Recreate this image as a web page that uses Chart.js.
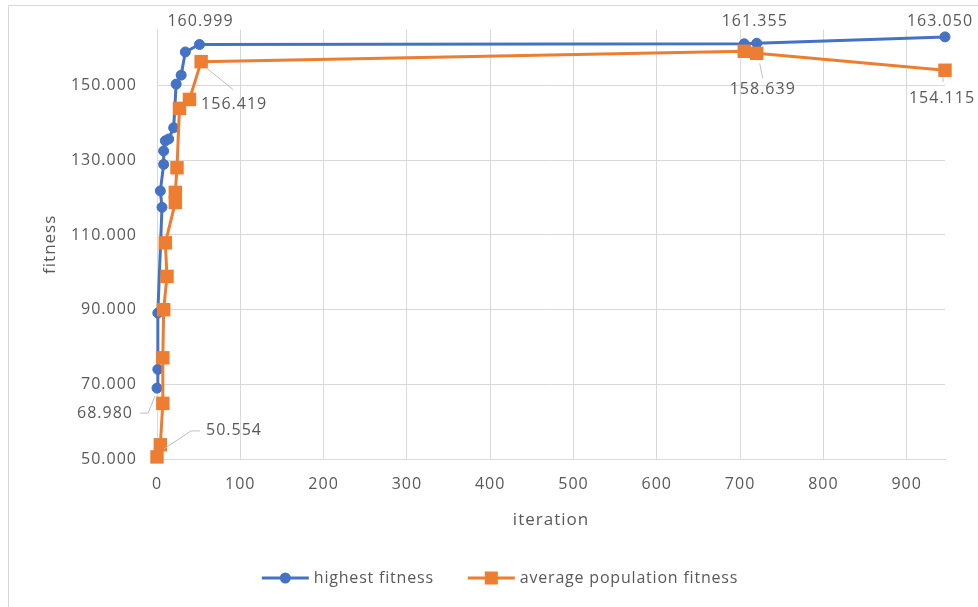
<!DOCTYPE html>
<html>
<head>
<meta charset="utf-8">
<script src="https://cdn.jsdelivr.net/npm/chart.js@4.4.0/dist/chart.umd.min.js"></script>
<style>
  html, body { margin: 0; padding: 0; background: #ffffff; }
  canvas { display: block; }
</style>
</head>
<body>
<canvas id="chart" width="978" height="607"></canvas>
<script>
// Series names
const seriesNames = ['highest fitness', 'average population fitness'];

// highest fitness per iteration
const highestIter = [0, 1, 1, 6, 4, 8, 8, 10, 14, 20, 23, 29, 34, 51, 705, 720, 946];
const highestFit = [68.980, 74.0, 89.1, 117.4, 121.8, 128.9, 132.5, 135.2, 135.7, 138.7, 150.4, 152.8, 159.0, 160.999, 161.2, 161.355, 163.050];

// average population fitness per iteration
const averageIter = [0, 4, 7, 7, 8, 12, 10, 22, 22, 24, 27, 39, 53, 705, 720, 946];
const averageFit = [50.554, 53.8, 64.9, 77.1, 90.0, 98.9, 107.9, 118.7, 121.4, 128.0, 143.9, 146.3, 156.419, 159.2, 158.639, 154.115];

// Axis ticks and ranges
const xTicks = [0, 100, 200, 300, 400, 500, 600, 700, 800, 900];
const yTicks = [50, 70, 90, 110, 130, 150];
const xMin = 0, xMax = 946;
const yMin = 50, yMax = 165;

const FONT = '"Open Sans", "Noto Sans", sans-serif';
const TEXT = '#595959';
const GRID = '#d9d9d9';
const COLORS = ['#4472C4', '#ED7D31'];

const zip = (xs, ys) => xs.map((x, i) => ({ x: x, y: ys[i] }));

// Value labels: which point, where the text sits relative to it, optional leader line
const valueLabels = [
  { ds: 0, i: 0,  dx: -52, dy: 25, leader: [[-17, 25], [-9, 25], [-2, 8]] },
  { ds: 0, i: 13, dx: 1,   dy: -23 },
  { ds: 0, i: 15, dx: -2,  dy: -22 },
  { ds: 0, i: 16, dx: -5,  dy: -15 },
  { ds: 1, i: 0,  dx: 77,  dy: -26, leader: [[43, -26], [34, -26], [7, -8]] },
  { ds: 1, i: 12, dx: 33,  dy: 43,  leader: [[5, 6], [32, 28]] },
  { ds: 1, i: 14, dx: 6,   dy: 36,  leader: [[3, 10], [6, 25]] },
  { ds: 1, i: 15, dx: -3,  dy: 28,  leader: [[-2, 7], [-2, 12]] }
];

const spacing = {
  id: 'spacing',
  beforeLayout(chart) { chart.ctx.letterSpacing = '1px'; },
  beforeDraw(chart) { chart.ctx.letterSpacing = '1px'; }
};

const frame = {
  id: 'frame',
  beforeDraw(chart) {
    const ctx = chart.ctx;
    ctx.save();
    ctx.fillStyle = '#ffffff';
    ctx.fillRect(0, 0, chart.width, chart.height);
    ctx.strokeStyle = GRID;
    ctx.lineWidth = 1;
    ctx.strokeRect(8.5, 5.5, chart.width + 10, chart.height + 10);
    ctx.restore();
  }
};

const pointLabels = {
  id: 'pointLabels',
  afterDatasetsDraw(chart) {
    const ctx = chart.ctx;
    ctx.save();
    ctx.letterSpacing = '1px';
    ctx.font = '16px ' + FONT;
    ctx.fillStyle = TEXT;
    ctx.textAlign = 'center';
    ctx.textBaseline = 'middle';
    valueLabels.forEach(l => {
      const pt = chart.getDatasetMeta(l.ds).data[l.i];
      const v = chart.data.datasets[l.ds].data[l.i].y;
      if (l.leader) {
        ctx.beginPath();
        ctx.strokeStyle = '#bfbfbf';
        ctx.lineWidth = 1;
        l.leader.forEach((p, k) => {
          const fn = k === 0 ? 'moveTo' : 'lineTo';
          ctx[fn](pt.x + p[0], pt.y + p[1]);
        });
        ctx.stroke();
      }
      ctx.fillText(v.toFixed(3), pt.x + l.dx, pt.y + l.dy);
    });
    ctx.restore();
  }
};

const legendBar = {
  id: 'legendBar',
  afterDraw(chart) {
    const ctx = chart.ctx;
    ctx.save();
    ctx.letterSpacing = '0.8px';
    ctx.font = '16px ' + FONT;
    ctx.textBaseline = 'middle';
    ctx.textAlign = 'left';
    const y = 578, lineW = 47, gapText = 5, gapItem = 34;
    const sets = chart.data.datasets;
    const widths = sets.map(d => ctx.measureText(d.label).width);
    const total = widths.reduce((a, w) => a + lineW + gapText + w, 0) + gapItem * (sets.length - 1);
    let x = 500 - total / 2;
    sets.forEach((d, k) => {
      ctx.strokeStyle = d.borderColor;
      ctx.lineWidth = 3;
      ctx.beginPath();
      ctx.moveTo(x, y);
      ctx.lineTo(x + lineW, y);
      ctx.stroke();
      ctx.fillStyle = d.borderColor;
      const cx = x + lineW / 2;
      if (d.pointStyle === 'rect') {
        ctx.fillRect(cx - 6.5, y - 6.5, 13, 13);
      } else {
        ctx.beginPath();
        ctx.arc(cx, y, 5.5, 0, Math.PI * 2);
        ctx.fill();
      }
      ctx.fillStyle = TEXT;
      ctx.fillText(d.label, x + lineW + gapText, y);
      x += lineW + gapText + widths[k] + gapItem;
    });
    ctx.restore();
  }
};

new Chart(document.getElementById('chart'), {
  type: 'scatter',
  data: {
    datasets: [
      {
        label: seriesNames[0],
        data: zip(highestIter, highestFit),
        showLine: true,
        borderColor: COLORS[0],
        backgroundColor: COLORS[0],
        borderWidth: 3,
        pointStyle: 'circle',
        pointRadius: 5,
        pointBorderWidth: 1,
        pointBorderColor: COLORS[0],
        pointBackgroundColor: COLORS[0],
        clip: false,
        order: 1
      },
      {
        label: seriesNames[1],
        data: zip(averageIter, averageFit),
        showLine: true,
        borderColor: COLORS[1],
        backgroundColor: COLORS[1],
        borderWidth: 3,
        pointStyle: 'rect',
        pointRadius: 9.5,
        pointBorderWidth: 0,
        pointBackgroundColor: COLORS[1],
        clip: false,
        order: 0
      }
    ]
  },
  options: {
    responsive: false,
    animation: false,
    devicePixelRatio: 1,
    layout: { padding: { left: 0, top: 28, right: 33, bottom: 73 } },
    plugins: { legend: { display: false }, tooltip: { enabled: false } },
    scales: {
      x: {
        type: 'linear',
        min: xMin,
        max: xMax,
        afterBuildTicks: s => { s.ticks = xTicks.map(v => ({ value: v })); },
        afterFit: s => { s.height = 75; },
        grid: { color: GRID, lineWidth: 1, drawTicks: false },
        border: { color: GRID, width: 1 },
        ticks: {
          padding: 16, color: TEXT, autoSkip: false, maxRotation: 0,
          font: { family: FONT, size: 16 },
          callback: v => String(v)
        },
        title: {
          display: true, text: 'iteration', color: TEXT,
          font: { family: FONT, size: 17 },
          padding: { top: 0, bottom: 4 }
        }
      },
      y: {
        type: 'linear',
        min: yMin,
        max: yMax,
        afterBuildTicks: s => { s.ticks = yTicks.map(v => ({ value: v })); },
        afterFit: s => { s.width = 157; },
        grid: { color: GRID, lineWidth: 1, drawTicks: false },
        border: { color: GRID, width: 1 },
        ticks: {
          padding: 20, color: TEXT,
          font: { family: FONT, size: 16 },
          callback: v => Number(v).toFixed(3)
        },
        title: {
          display: true, text: 'fitness', color: TEXT,
          font: { family: FONT, size: 17 },
          padding: { top: 40, bottom: 0 }
        }
      }
    }
  },
  plugins: [spacing, frame, pointLabels, legendBar]
});
</script>
</body>
</html>
